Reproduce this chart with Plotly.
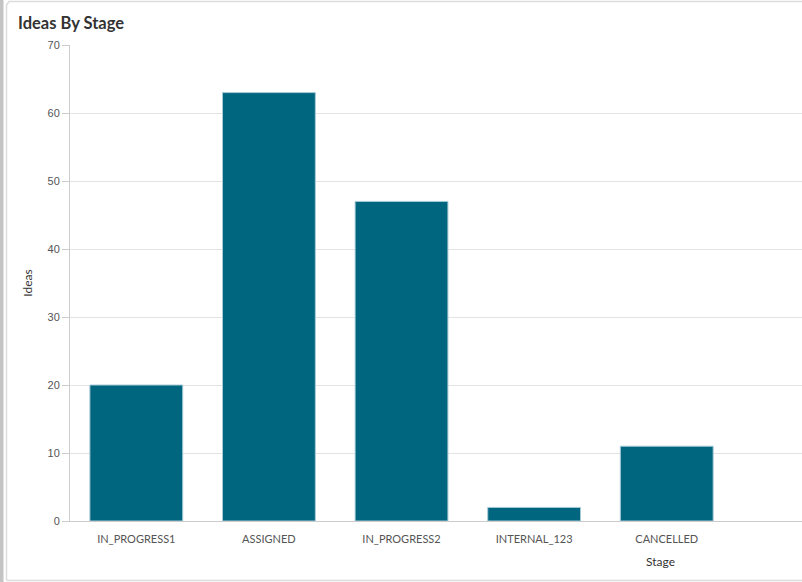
import plotly.graph_objects as go

stages = ["IN_PROGRESS1", "ASSIGNED", "IN_PROGRESS2", "INTERNAL_123", "CANCELLED"]
ideas = [20, 63, 47, 2, 11]
y_ticks = [0, 10, 20, 30, 40, 50, 60, 70]

W, H = 802, 582
L, R, T, B = 70, 0, 45, 61
pw, ph = W - L - R, H - T - B


def px(x):
    return (x - L) / pw


def py(y):
    return (H - B - y) / ph


fig = go.Figure()
fig.add_trace(go.Bar(
    x=stages, y=ideas, width=0.7,
    marker=dict(color="#00657f", line=dict(color="#a9cbd8", width=1)),
))

# card frame around the chart
fig.add_shape(type="rect", xref="paper", yref="paper",
              x0=px(0), x1=px(3.5), y0=py(582), y1=py(0),
              fillcolor="#c4c4c4", line_width=0, layer="below")
fig.add_shape(type="path", xref="paper", yref="paper",
              path="M %f %f L %f %f L %f %f L %f %f" % (
                  px(900), py(1.5), px(9), py(1.5), px(6.5), py(5), px(6.5), py(580)),
              line=dict(color="#dcdcdc", width=1.5), layer="below")
fig.add_shape(type="line", xref="paper", yref="paper",
              x0=px(6.5), x1=px(900), y0=py(580.5), y1=py(580.5),
              line=dict(color="#dcdcdc", width=1.5), layer="below")

fig.add_annotation(text="<b>Ideas By Stage</b>", xref="paper", yref="paper",
                   x=px(16), y=py(23), xanchor="left", yanchor="middle",
                   showarrow=False, font=dict(family="Lato", size=16.5, color="#333333"))
fig.add_annotation(text="Stage", xref="paper", yref="paper",
                   x=px(660), y=py(561), xanchor="center", yanchor="middle",
                   showarrow=False, font=dict(family="Lato", size=12, color="#333333"))

fig.update_layout(
    width=W, height=H,
    margin=dict(l=L, r=R, t=T, b=B),
    paper_bgcolor="white", plot_bgcolor="white",
    showlegend=False,
    bargap=0.3,
)
fig.update_xaxes(
    range=[-0.5, 5.02], showgrid=False,
    showline=True, linecolor="#cccccc", linewidth=1,
    ticks="outside", ticklen=8, tickcolor="rgba(0,0,0,0)",
    tickfont=dict(family="Lato", size=11, color="#555555"),
    fixedrange=True,
)
fig.update_yaxes(
    range=[0, 70], tickvals=y_ticks,
    showgrid=True, gridcolor="#e3e3e3", gridwidth=1,
    zeroline=False,
    showline=True, linecolor="#cccccc", linewidth=1,
    ticks="outside", ticklen=7, tickcolor="#cccccc",
    tickfont=dict(family="Liberation Sans", size=11, color="#555555"),
    title=dict(text="Ideas", font=dict(family="Lato", size=12, color="#333333"), standoff=12),
    fixedrange=True,
)

fig.write_html("out.html", config={"displayModeBar": False},
               post_script="document.body.style.margin='0px';document.body.style.overflow='hidden';")
